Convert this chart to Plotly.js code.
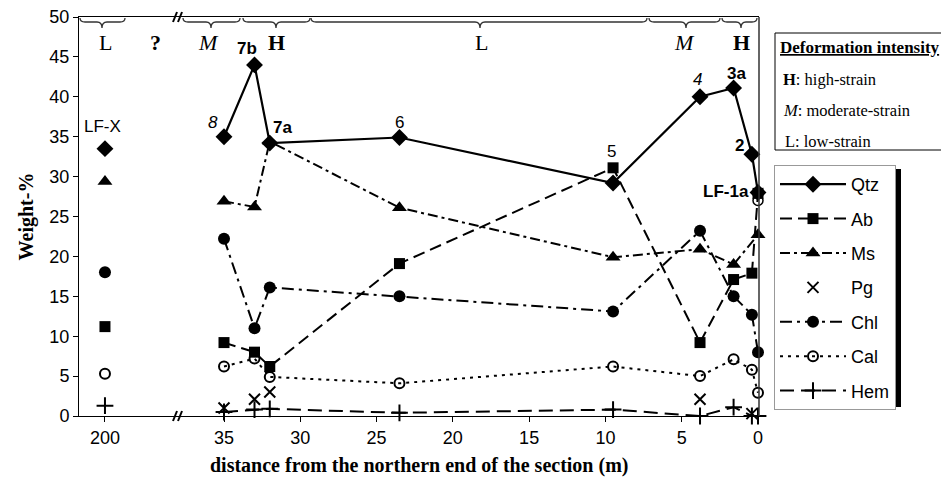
<!DOCTYPE html>
<html><head><meta charset="utf-8">
<script src="https://cdn.plot.ly/plotly-3.0.1.min.js"></script>
<style>html,body{margin:0;padding:0;background:#fff}#chart{width:941px;height:479px}</style>
</head><body><div id="chart"></div>
<script>
// ---------------- DATA ----------------
const qtzX = [35, 33, 32, 23.5, 9.5, 3.8, 1.6, 0.4, 0];
const qtzY = [35.0, 44.0, 34.2, 34.9, 29.2, 40.0, 41.1, 32.8, 28.0];
const sampleLabels = ['8', '7b', '7a', '6', '5', '4', '3a', '2', 'LF-1a'];
const abX = [35, 33, 32, 23.5, 9.5, 3.8, 1.6, 0.4, 0];
const abY = [9.2, 8.0, 6.2, 19.1, 31.1, 9.2, 17.1, 17.9, 27.9];
const msX = [35, 33, 32, 23.5, 9.5, 3.8, 1.6, 0];
const msY = [26.9, 26.2, 34.4, 26.1, 19.9, 20.9, 19.0, 22.7];
const pgX = [35, 33, 32, 3.8, 0.4];
const pgY = [1.0, 2.1, 3.0, 2.1, 0.3];
const chlX = [35, 33, 32, 23.5, 9.5, 3.8, 1.6, 0.4, 0];
const chlY = [22.2, 11.0, 16.1, 15.0, 13.1, 23.2, 15.0, 12.7, 8.0];
const calX = [35, 33, 32, 23.5, 9.5, 3.8, 1.6, 0.4, 0];
const calY = [6.2, 7.2, 4.9, 4.1, 6.2, 5.0, 7.1, 5.8, 2.9];
const hemX = [35, 33, 32, 23.5, 9.5, 3.8, 1.6, 0.4, 0];
const hemY = [0.5, 0.8, 0.9, 0.4, 0.8, 0.0, 1.1, 0.0, 0.0];
// LF-X sample (200 m, beyond the axis break)
const lfxDistance = 200;
const lfxLabel = 'LF-X';
const lfxMinerals = ['Qtz', 'Ab', 'Ms', 'Chl', 'Cal', 'Hem'];
const lfxValues = [33.5, 11.2, 29.4, 18.0, 5.3, 1.3];
// extra hollow point at LF-1a
const extraX = [0];
const extraY = [27.0];
// axis ticks
const yTicks = [0, 5, 10, 15, 20, 25, 30, 35, 40, 45, 50];
const xTicksMain = [0, 5, 10, 15, 20, 25, 30, 35];
const strainZones = ['L', '?', 'M', 'H', 'L', 'M', 'H'];

// ---------------- STYLE ----------------
const W = 941, H = 479;
const L = 79, R = 759, T = 17, B = 416;
const px2x = p => (p - L) / (R - L);
const py2y = p => (B - p) / (B - T);
const BRK = 178;
const brk = px2x(BRK);
const SANS = 'Liberation Sans, Arial, sans-serif';
const SERIF = 'Liberation Serif, Times New Roman, serif';

const styles = {
  Qtz: {symbol: 'diamond', size: 13, dash: 'solid', width: 2.2, mode: 'lines+markers'},
  Ab:  {symbol: 'square', size: 11, dash: '12px,6px', width: 2, mode: 'lines+markers'},
  Ms:  {symbol: 'triangle-up', size: 13, dash: '10px,4px,3px,4px', width: 2, mode: 'lines+markers'},
  Pg:  {symbol: 'x-thin-open', size: 11, dash: 'solid', width: 2, mode: 'markers'},
  Chl: {symbol: 'circle', size: 12, dash: '12px,5px,3px,5px', width: 2, mode: 'lines+markers'},
  Cal: {symbol: 'circle-open', size: 10, dash: '3px,5px', width: 2, mode: 'lines+markers'},
  Hem: {symbol: 'cross-thin-open', size: 12, dash: '14px,7px', width: 2, mode: 'lines+markers'}
};
const series = [
  ['Qtz', qtzX, qtzY], ['Ab', abX, abY], ['Ms', msX, msY], ['Pg', pgX, pgY],
  ['Chl', chlX, chlY], ['Cal', calX, calY], ['Hem', hemX, hemY]
];

function markerOf(s) {
  return {symbol: s.symbol, size: s.size, color: '#000',
          line: {color: '#000', width: s.symbol.indexOf('open') >= 0 ? 2 : 0}};
}

const traces = [];
series.forEach(([name, x, y]) => {
  const s = styles[name];
  traces.push({
    type: 'scatter', mode: s.mode, name: name, legendgroup: name,
    x: x, y: y, xaxis: 'x2', yaxis: 'y', cliponaxis: false,
    line: {color: '#000', width: s.width, dash: s.dash},
    marker: markerOf(s), hoverinfo: 'x+y+name'
  });
});
lfxMinerals.forEach((name, i) => {
  const s = styles[name];
  traces.push({
    type: 'scatter', mode: 'markers', name: name, legendgroup: name, showlegend: false,
    x: [lfxDistance], y: [lfxValues[i]], xaxis: 'x', yaxis: 'y', cliponaxis: false,
    marker: markerOf(s)
  });
});
traces.push({
  type: 'scatter', mode: 'markers', showlegend: false, x: extraX, y: extraY,
  xaxis: 'x2', yaxis: 'y', cliponaxis: false,
  marker: {symbol: 'circle-open', size: 10, color: '#000', line: {color: '#000', width: 1.5}}
});

// sample labels attached to Qtz points
const labelFmt = [
  {t: s => '<i>' + s + '</i>', dx: -11, dy: 14},
  {t: s => '<b>' + s + '</b>', dx: -8, dy: 16},
  {t: s => '<b>' + s + '</b>', dx: 13, dy: 16},
  {t: s => s, dx: 0, dy: 15},
  {t: s => s, dx: -2, dy: 31},
  {t: s => '<i>' + s + '</i>', dx: -3, dy: 17},
  {t: s => '<b>' + s + '</b>', dx: 3, dy: 15},
  {t: s => '<b>' + s + '</b>', dx: -12, dy: 9},
  {t: s => '<b>' + s + '</b>', dx: -32, dy: 1}
];
const annotations = sampleLabels.map((lab, i) => ({
  xref: 'x2', yref: 'y', x: qtzX[i], y: qtzY[i], showarrow: false,
  text: labelFmt[i].t(lab), xshift: labelFmt[i].dx, yshift: labelFmt[i].dy,
  font: {family: SANS, size: 17, color: '#000'}
}));
annotations.push({
  xref: 'x', yref: 'y', x: lfxDistance, y: lfxValues[0], showarrow: false,
  text: lfxLabel, yshift: 22, xshift: -2, font: {family: SANS, size: 17, color: '#000'}
});

// strain zone letters
const zoneX = [105, 155, 208, 276, 481, 684, 741];
const zoneFmt = [s => s, s => '<b>' + s + '</b>', s => '<i>' + s + '</i>', s => '<b>' + s + '</b>',
                 s => s, s => '<i>' + s + '</i>', s => '<b>' + s + '</b>'];
strainZones.forEach((z, i) => annotations.push({
  xref: 'paper', yref: 'paper', x: px2x(zoneX[i]), y: py2y(42), showarrow: false,
  xanchor: 'center', yanchor: 'middle', text: zoneFmt[i](z),
  font: {family: SERIF, size: 22, color: '#000'}
}));

// x title
annotations.push({
  xref: 'paper', yref: 'paper', x: px2x(419), y: py2y(466), showarrow: false,
  xanchor: 'center', yanchor: 'middle',
  text: '<b>distance from the northern end of the section (m)</b>',
  font: {family: SERIF, size: 20, color: '#000'}
});

// deformation intensity box texts
const boxTexts = [
  ['<b><u>Deformation intensity</u></b>', 778, 47, 17],
  ['<b>H</b>: high-strain', 781, 79, 16.5],
  ['<i>M</i>: moderate-strain', 781, 110, 16.5],
  ['L: low-strain', 783, 141, 16.5]
];
boxTexts.forEach(([t, x, y, fs]) => annotations.push({
  xref: 'paper', yref: 'paper', x: px2x(x), y: py2y(y), showarrow: false,
  xanchor: 'left', yanchor: 'middle', text: t,
  font: {family: SERIF, size: fs, color: '#000'}
}));

// shapes: braces, breaks, frame, boxes
function brace(x0, x1, tip) {
  const y0 = py2y(18), ya = py2y(22), yt = py2y(28);
  const r = 5;
  const X = p => px2x(p);
  return {
    type: 'path', xref: 'paper', yref: 'paper', line: {color: '#333', width: 1.3},
    path: `M${X(x0)},${y0} Q${X(x0)},${ya} ${X(x0 + r)},${ya} L${X(tip - r)},${ya} ` +
          `Q${X(tip)},${ya} ${X(tip)},${yt} Q${X(tip)},${ya} ${X(tip + r)},${ya} ` +
          `L${X(x1 - r)},${ya} Q${X(x1)},${ya} ${X(x1)},${y0}`
  };
}
const shapes = [
  brace(80, 125, 102), brace(183, 240, 211), brace(243, 310, 276),
  brace(311, 647, 480), brace(649, 720, 686), brace(722, 757, 741),
  {type: 'line', xref: 'paper', yref: 'paper', x0: 1, x1: 1, y0: 0, y1: 1, line: {color: '#333', width: 1.5}},
  {type: 'rect', xref: 'paper', yref: 'paper', x0: px2x(775), x1: px2x(1100), y0: py2y(150), y1: py2y(33),
   line: {color: '#000', width: 1}},
  {type: 'rect', xref: 'paper', yref: 'paper', x0: px2x(779), x1: px2x(901), y0: py2y(407), y1: py2y(169),
   fillcolor: '#000', line: {width: 0}}
];
[[B, 1], [T, 1]].forEach(([yy]) => {
  [BRK - 3, BRK + 2].forEach(xx => shapes.push({
    type: 'line', xref: 'paper', yref: 'paper',
    x0: px2x(xx - 2), x1: px2x(xx + 2), y0: py2y(yy + 5), y1: py2y(yy - 5),
    line: {color: '#000', width: 2}
  }));
});

const axisCommon = {
  showgrid: false, zeroline: false, showline: true, linecolor: '#000', linewidth: 1,
  ticks: 'outside', ticklen: 5, tickcolor: '#000', tickwidth: 1,
  tickfont: {family: SANS, size: 18, color: '#000'}, fixedrange: true
};

const layout = {
  width: W, height: H, paper_bgcolor: '#fff', plot_bgcolor: '#fff',
  margin: {l: L, r: W - R, t: T, b: H - B, pad: 0},
  showlegend: true,
  xaxis: Object.assign({}, axisCommon, {
    domain: [0, brk], anchor: 'y', range: [201.70, 195.22], tickmode: 'array',
    tickvals: [lfxDistance], ticktext: [String(lfxDistance)], mirror: true
  }),
  xaxis2: Object.assign({}, axisCommon, {
    domain: [brk, 1], anchor: 'y', range: [38.015, -0.0655], tickmode: 'array',
    tickvals: xTicksMain, ticktext: xTicksMain.map(String), mirror: true
  }),
  yaxis: Object.assign({}, axisCommon, {
    anchor: 'x', range: [0, 50], tickmode: 'array', tickvals: yTicks, ticktext: yTicks.map(String),
    title: {text: '<b>Weight-%</b>', font: {family: SERIF, size: 20, color: '#000'}, standoff: 10}
  }),
  legend: {
    x: px2x(774), y: py2y(165), xref: 'paper', yref: 'paper', xanchor: 'left', yanchor: 'top',
    bgcolor: '#fff', bordercolor: '#999', borderwidth: 1,
    font: {family: SANS, size: 18, color: '#000'}, itemwidth: 66,
    traceorder: 'grouped', tracegroupgap: 8
  },
  annotations: annotations,
  shapes: shapes
};

Plotly.newPlot('chart', traces, layout, {displayModeBar: false, staticPlot: true});
</script>
</body></html>
